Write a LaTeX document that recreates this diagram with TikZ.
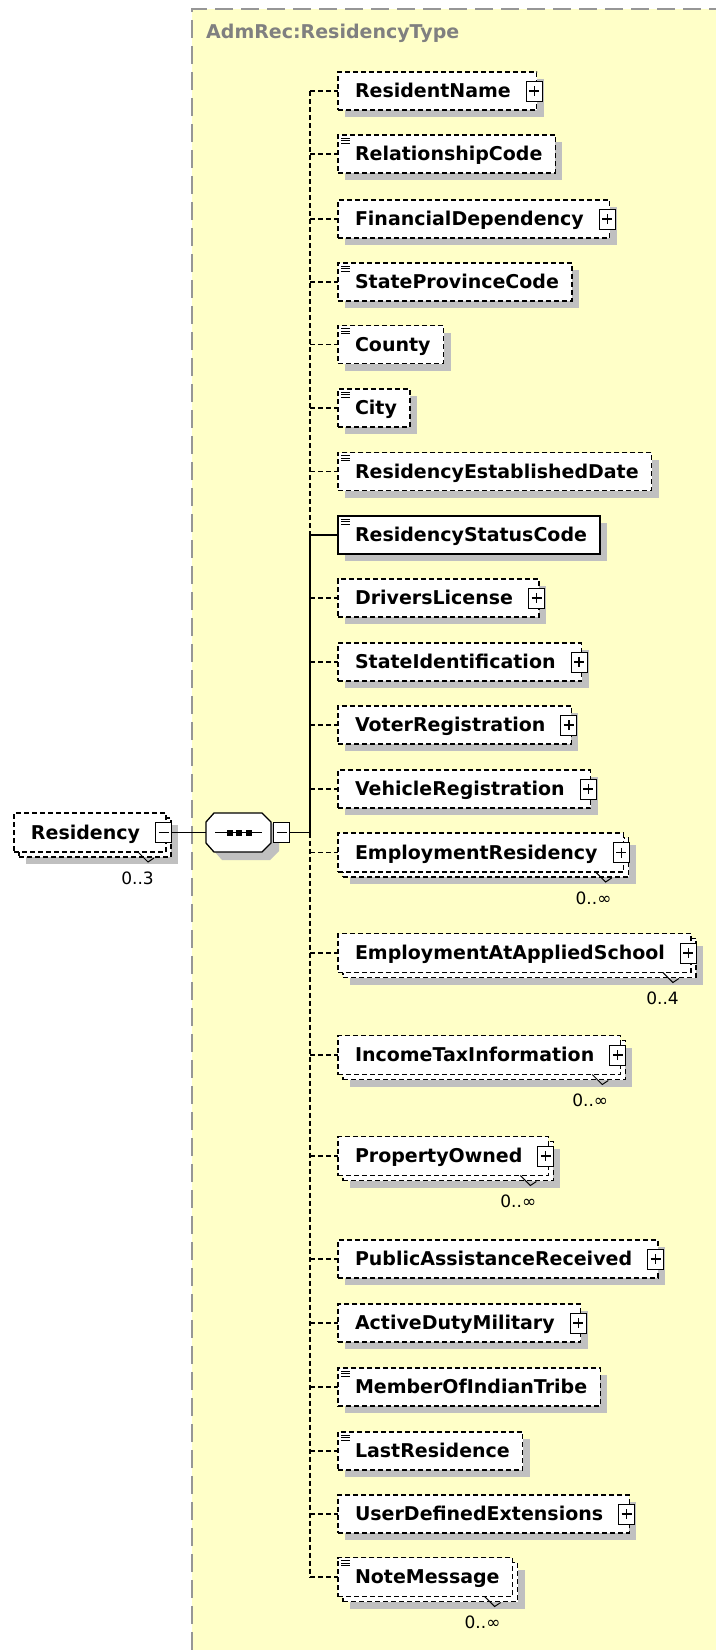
\documentclass[tikz,border=0pt]{standalone}
\usepackage{fontspec}
\setmainfont{DejaVu Sans}
\usetikzlibrary{calc}
\definecolor{bgyellow}{RGB}{255,255,200}
\definecolor{shadowgray}{RGB}{192,192,192}
\definecolor{framegray}{RGB}{150,150,150}
\definecolor{titlegray}{RGB}{128,128,128}
\newcommand\efont{\fontsize{19}{23}\selectfont\bfseries}
\newcommand\mfont{\fontsize{17}{20}\selectfont}
\tikzset{
  conn/.style={line width=1.3pt, draw=black},
  opt/.style={dash pattern=on 5pt off 3pt},
  req/.style={solid},
  boxbase/.style={rectangle, inner sep=0pt, outer sep=0pt, font=\efont, anchor=west, text height=13.5pt, text depth=0pt},
  ebox/.style={boxbase, draw=black, fill=white, line width=1.3pt},
  shadbox/.style={boxbase, fill=shadowgray},
  backbox/.style={ebox},
  pbox/.style={draw=black, fill=white, line width=1pt, inner sep=0pt, outer sep=0pt, minimum width=16pt, minimum height=20pt},
  sign/.style={line width=1.2pt, draw=black},
  mult/.style={inner sep=0pt, font=\mfont, anchor=east},
  tick/.style={line width=1pt, draw=black},
  iconline/.style={line width=0.9pt, draw=black},
}
% single element box: id, cy, text, right pad, border style
\newcommand\elem[5]{%
  \node[shadbox, minimum height=38pt] (s#1) at (345,#2+7) {\hspace*{17pt}\phantom{#3}\hspace*{#4pt}};
  \node[ebox, #5, minimum height=38pt] (b#1) at (338,#2) {\hspace*{17pt}#3\hspace*{#4pt}};
}
% multiple-occurrence element box: id, x0, cy, text, right pad, border style, label
\newcommand\melem[7]{%
  \node[shadbox, minimum height=39pt] (s#1) at (#2+12,#3+12) {\hspace*{17pt}\phantom{#4}\hspace*{#5pt}};
  \node[backbox, #6, minimum height=39pt] (k#1) at (#2+5,#3+5) {\hspace*{17pt}\phantom{#4}\hspace*{#5pt}};
  \node[ebox, #6, minimum height=39pt] (b#1) at (#2,#3) {\hspace*{17pt}#4\hspace*{#5pt}};
  \draw[tick] ($(k#1.south east)+(-33,-5)$) -- ($(k#1.south east)+(-23,5)$) -- ($(k#1.south east)+(-17,1)$);
  \node[mult] (m#1) at ($(k#1.south east)+(-17,21)$) {#7};
}
\newcommand\plusbox[1]{%
  \node[pbox] (p#1) at ($(b#1.east)+(-2.5,0)$) {};
  \draw[sign] ($(p#1.center)+(-5,0)$) -- ($(p#1.center)+(5,0)$);
  \draw[sign] ($(p#1.center)+(0,-5)$) -- ($(p#1.center)+(0,5)$);
}
\newcommand\simpleicon[1]{%
  \draw[iconline] ($(b#1.north west)+(3,3)$) -- ++(9,0);
  \draw[iconline] ($(b#1.north west)+(3,5.7)$) -- ++(9,0);
  \draw[iconline] ($(b#1.north west)+(3,8.4)$) -- ++(9,0);
}
\newcommand\branch[3]{%
  \coordinate (j#1) at (310,#2);
  \draw[conn,#3] (j#1) -- (b#1.west);
}
\begin{document}
\begin{tikzpicture}[x=1pt,y=-1pt]
\useasboundingbox (0,0) rectangle (716,1650);
\fill[white] (0,0) rectangle (716,1650);
% complex type area
\fill[bgyellow] (192,9) rectangle (716,1650);
\draw[framegray, line width=1.5pt, dash pattern=on 18pt off 8pt] (192,1650) -- (192,9) -- (716,9);
\node[anchor=west, inner sep=0pt, font=\efont, text=titlegray] (title) at (206,33) {AdmRec:ResidencyType};

% root element
\melem{res}{14}{832.5}{Residency}{26}{opt}{0..3}
\node[pbox] (pres) at ($(bres.east)+(-2.5,0)$) {};
\draw[sign] ($(pres.center)+(-5,0)$) -- ($(pres.center)+(5,0)$);

% sequence compositor
\node[minimum width=65pt, minimum height=39pt, inner sep=0pt, outer sep=0pt] (seq) at (238.5,832.5) {};
\fill[shadowgray] (214,830) -- (222,821) -- (270,821) -- (279,830) -- (279,851) -- (270,860) -- (222,860) -- (214,851) -- cycle;
\draw[line width=1.3pt, fill=white] (206,822) -- (214,813) -- (262,813) -- (271,822) -- (271,843) -- (262,852) -- (214,852) -- (206,843) -- cycle;
\draw[line width=1.3pt] (215,832.5) -- (262,832.5);
\fill (226.5,829.5) rectangle ++(6,6);
\fill (236,829.5) rectangle ++(6,6);
\fill (245.5,829.5) rectangle ++(6,6);
\node[pbox] (sm) at (281.5,832.5) {};
\draw[sign] ($(sm.center)+(-5,0)$) -- ($(sm.center)+(5,0)$);
\coordinate (jseq) at (310,832.5);
\draw[conn] (pres.east) -- (seq.west);
\draw[conn] (sm.east) -- (jseq);

% child elements
\elem{1}{91}{ResidentName}{26}{opt} \plusbox{1}
\elem{2}{154}{RelationshipCode}{13}{opt} \simpleicon{2}
\elem{3}{219}{FinancialDependency}{26}{opt} \plusbox{3}
\elem{4}{282}{StateProvinceCode}{13}{opt} \simpleicon{4}
\elem{5}{344.5}{County}{13}{opt} \simpleicon{5}
\elem{6}{408}{City}{13}{opt} \simpleicon{6}
\elem{7}{471.5}{ResidencyEstablishedDate}{13}{opt} \simpleicon{7}
\elem{8}{535}{ResidencyStatusCode}{13}{req} \simpleicon{8}
\elem{9}{598}{DriversLicense}{26}{opt} \plusbox{9}
\elem{10}{662}{StateIdentification}{26}{opt} \plusbox{10}
\elem{11}{725}{VoterRegistration}{26}{opt} \plusbox{11}
\elem{12}{789}{VehicleRegistration}{26}{opt} \plusbox{12}
\melem{13}{338}{852.5}{EmploymentResidency}{26}{opt}{0..∞} \plusbox{13}
\melem{14}{338}{953}{EmploymentAtAppliedSchool}{26}{opt}{0..4} \plusbox{14}
\melem{15}{338}{1055}{IncomeTaxInformation}{26}{opt}{0..∞} \plusbox{15}
\melem{16}{338}{1156}{PropertyOwned}{26}{opt}{0..∞} \plusbox{16}
\elem{17}{1259}{PublicAssistanceReceived}{26}{opt} \plusbox{17}
\elem{18}{1323}{ActiveDutyMilitary}{26}{opt} \plusbox{18}
\elem{19}{1387}{MemberOfIndianTribe}{13}{opt} \simpleicon{19}
\elem{20}{1451}{LastResidence}{13}{opt} \simpleicon{20}
\elem{21}{1514}{UserDefinedExtensions}{26}{opt} \plusbox{21}
\melem{22}{338}{1577}{NoteMessage}{13}{opt}{0..∞} \simpleicon{22}

% branches
\branch{1}{91}{opt}
\branch{2}{154}{opt}
\branch{3}{219}{opt}
\branch{4}{282}{opt}
\branch{5}{344.5}{opt}
\branch{6}{408}{opt}
\branch{7}{471.5}{opt}
\branch{8}{535}{req}
\branch{9}{598}{opt}
\branch{10}{662}{opt}
\branch{11}{725}{opt}
\branch{12}{789}{opt}
\branch{13}{852.5}{opt}
\branch{14}{953}{opt}
\branch{15}{1055}{opt}
\branch{16}{1156}{opt}
\branch{17}{1259}{opt}
\branch{18}{1323}{opt}
\branch{19}{1387}{opt}
\branch{20}{1451}{opt}
\branch{21}{1514}{opt}
\branch{22}{1577}{opt}
% spine
\draw[conn,opt] (j1) -- (j8);
\draw[conn] (j8) -- (jseq);
\draw[conn,opt] (jseq) -- (j22);
\end{tikzpicture}
\end{document}
